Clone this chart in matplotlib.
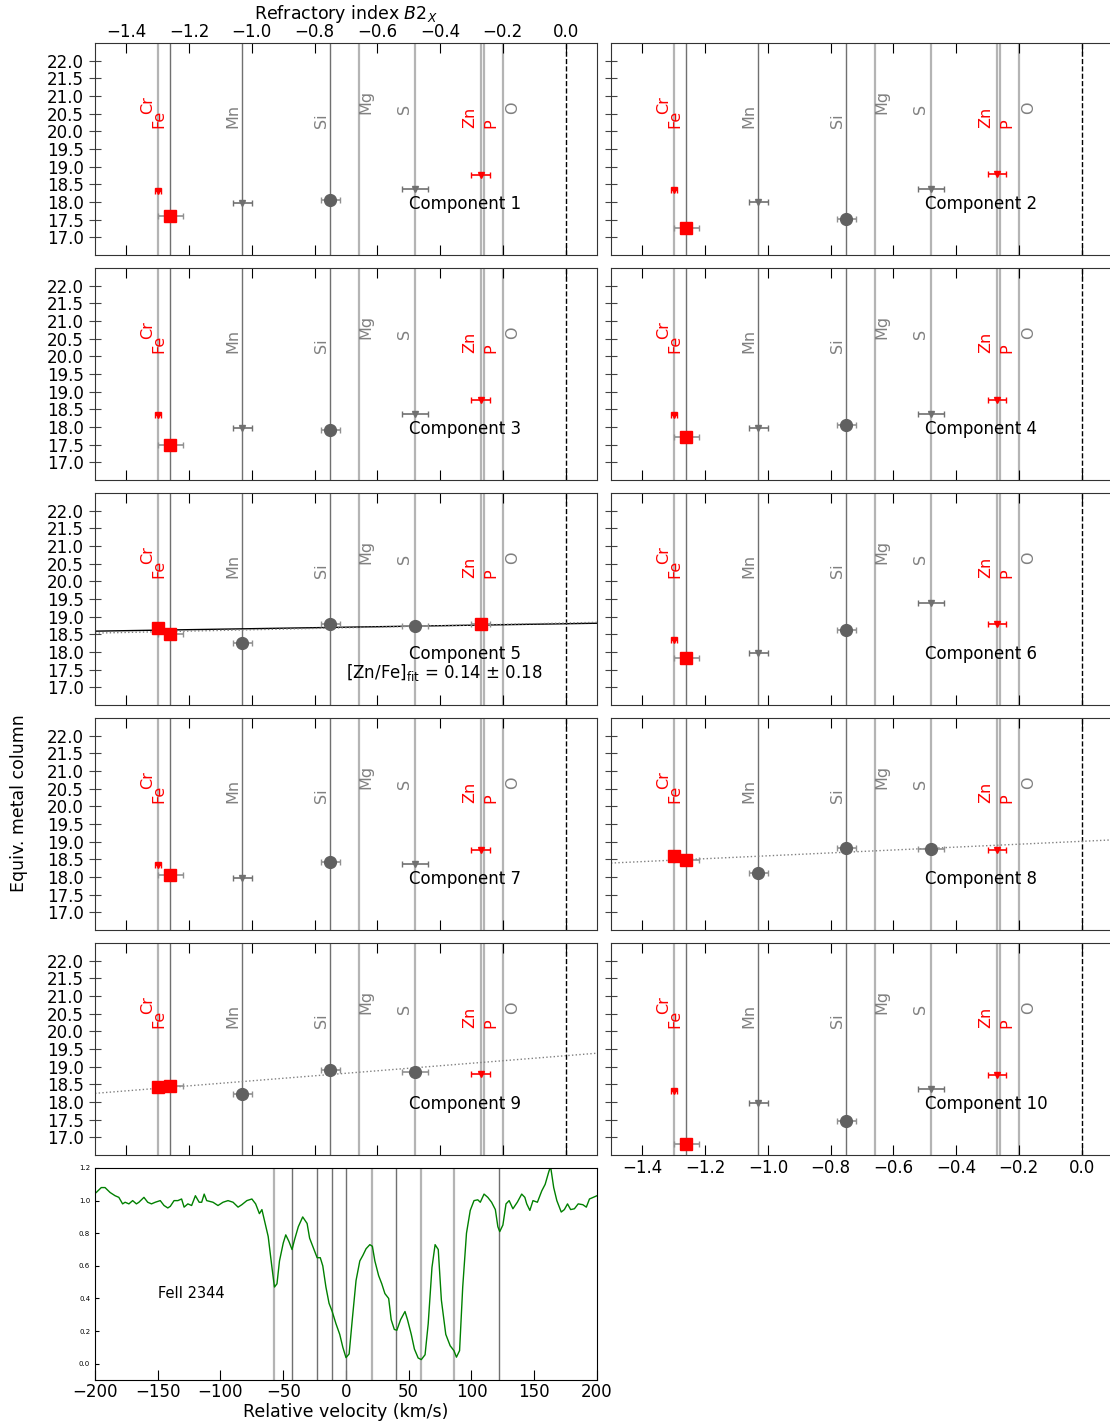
import matplotlib
matplotlib.use('Agg')
import matplotlib.pyplot as plt
import numpy as np

# refractory index B2 of each element
elements = ['Cr', 'Fe', 'Mn', 'Si', 'Mg', 'S', 'Zn', 'P', 'O']
b2 = [-1.30, -1.26, -1.03, -0.75, -0.66, -0.48, -0.27, -0.26, -0.20]
label_red = ['Cr', 'Fe', 'Zn', 'P']

# measured elements and their B2 uncertainties
meas_el = ['Cr', 'Fe', 'Mn', 'Si', 'S', 'Zn']
meas_b2err = [0.01, 0.04, 0.03, 0.03, 0.04, 0.03]

# equivalent metal column per component (same order as meas_el)
comp_values = [
    [18.32, 17.59, 17.98, 18.06, 18.36, 18.77],
    [18.33, 17.26, 17.99, 17.51, 18.36, 18.78],
    [18.33, 17.49, 17.96, 17.91, 18.37, 18.76],
    [18.33, 17.71, 17.96, 18.07, 18.37, 18.76],
    [18.68, 18.52, 18.25, 18.80, 18.75, 18.78],
    [18.33, 17.84, 17.98, 18.63, 19.38, 18.79],
    [18.33, 18.06, 17.96, 18.42, 18.37, 18.76],
    [18.59, 18.49, 18.10, 18.82, 18.78, 18.76],
    [18.42, 18.45, 18.24, 18.90, 18.84, 18.80],
    [18.31, 16.82, 17.98, 17.47, 18.36, 18.77],
]
# 1 = detection, 0 = upper limit
comp_detect = [
    [0, 1, 0, 1, 0, 0],
    [0, 1, 0, 1, 0, 0],
    [0, 1, 0, 1, 0, 0],
    [0, 1, 0, 1, 0, 0],
    [1, 1, 1, 1, 1, 1],
    [0, 1, 0, 1, 0, 0],
    [0, 1, 0, 1, 0, 0],
    [1, 1, 1, 1, 1, 0],
    [1, 1, 1, 1, 1, 0],
    [0, 1, 0, 1, 0, 0],
]
# depletion fits: (component, intercept at B2=0, slope, style)
fit_comp = [5, 5, 8, 9]
fit_y0 = [18.80, 18.82, 19.01, 19.31]
fit_slope = [0.14, 0.19, 0.41, 0.71]
fit_style = ['solid', 'dotted', 'dotted', 'dotted']

# FeII 2344 spectrum
vel = [-199, -195, -192, -188, -184, -181, -178, -176, -173, -170, -167, -165, -161, -158,
       -155, -152, -148, -145, -142, -140, -137, -134, -131, -129, -126, -123, -120, -117,
       -115, -113, -111, -106, -102, -98, -94, -90, -86, -83, -79, -75, -72, -69, -67, -65,
       -62, -59, -57, -55, -53, -50, -48, -45.5, -43, -41, -38, -34.5, -31, -29, -25.5, -23,
       -20.5, -18.5, -16, -13.5, -11, -8, -5, -2.5, 0, 2.5, 5, 8, 11, 13.5, 16, 19, 21, 23,
       26, 28.5, 31, 34, 36, 38.5, 40.5, 43.5, 47, 49, 52, 54.5, 57.5, 60, 63, 65.5, 68.5,
       71, 73.5, 76, 79.5, 83, 86, 88, 90.5, 93, 96, 99, 102, 105, 107, 110, 113, 116, 119,
       121, 122.5, 125, 127.5, 130, 133, 136.5, 140, 142.5, 144, 146.5, 149, 152.5, 156,
       158.7, 161.5, 163, 165.5, 168, 171.5, 174, 176.5, 179, 182, 185, 188.7, 191.5, 194,
       197, 200]
flux = [1.05, 1.08, 1.08, 1.05, 1.03, 1.02, 0.98, 0.99, 0.98, 1.00, 0.98, 0.99, 1.02, 0.99,
        0.98, 0.99, 1.00, 0.97, 0.955, 0.965, 1.00, 1.00, 1.01, 0.96, 0.98, 0.97, 1.03, 0.99,
        0.99, 1.04, 1.00, 0.99, 0.97, 0.99, 1.00, 0.99, 0.96, 0.975, 1.00, 1.01, 0.98, 0.92,
        0.945, 0.88, 0.78, 0.59, 0.47, 0.49, 0.63, 0.74, 0.79, 0.75, 0.70, 0.76, 0.84, 0.90,
        0.86, 0.77, 0.70, 0.65, 0.65, 0.60, 0.47, 0.37, 0.32, 0.245, 0.18, 0.10, 0.037, 0.06,
        0.27, 0.51, 0.63, 0.665, 0.705, 0.73, 0.72, 0.63, 0.54, 0.49, 0.43, 0.40, 0.27, 0.21,
        0.205, 0.27, 0.32, 0.27, 0.18, 0.09, 0.035, 0.025, 0.055, 0.245, 0.59, 0.73, 0.70,
        0.39, 0.18, 0.11, 0.08, 0.04, 0.08, 0.47, 0.80, 0.94, 1.00, 1.005, 0.99, 1.04, 1.02,
        0.99, 0.945, 0.84, 0.81, 0.85, 0.98, 1.00, 0.95, 0.99, 1.04, 1.02, 0.98, 0.94, 1.00,
        0.99, 1.06, 1.10, 1.175, 1.21, 1.08, 1.00, 0.93, 0.945, 0.98, 0.945, 0.95, 0.98,
        0.975, 0.96, 1.01, 1.02, 1.03]
comp_vel = [-57, -43, -23, -11, 0, 21, 40, 60, 86, 122]
comp_vel_dark = [0, 1, 1, 1, 1, 0, 1, 0, 0, 1]

# style per element line / label
line_dark = {'Cr': 0, 'Fe': 1, 'Mn': 1, 'Si': 1, 'Mg': 0, 'S': 0, 'Zn': 0, 'P': 0, 'O': 0}
lab_dx = {'Cr': -0.032, 'Fe': -0.038, 'Mn': -0.029, 'Si': -0.029, 'Mg': 0.022,
          'S': -0.032, 'Zn': -0.035, 'P': 0.022, 'O': 0.032}
lab_y = {'Cr': 20.5, 'Fe': 20.1, 'Mn': 20.1, 'Si': 20.1, 'Mg': 20.5,
         'S': 20.5, 'Zn': 20.1, 'P': 20.1, 'O': 20.5}

fig = plt.figure(figsize=(11.1, 14.25), dpi=100)
W, H = 1110.0, 1425.0


def panel_rect(x0, top, w=502, h=212):
    return [x0 / W, 1 - (top + h) / H, w / W, h / H]


def draw_component(ax, i):
    for el, x in zip(elements, b2):
        if line_dark[el]:
            ax.axvline(x, color='#707070', lw=1.0, zorder=1)
        else:
            ax.axvline(x, color='#b4b4b4', lw=1.6, zorder=1)
        col = 'red' if el in label_red else 'gray'
        ax.text(x + lab_dx[el], lab_y[el], el, rotation=90, color=col, fontsize=11.5,
                ha='center', va='bottom')
    ax.axvline(0.0, color='k', ls='--', lw=1.0, zorder=1)

    xs = np.linspace(-1.5, 0.1, 10)
    for c, y0, s, st in zip(fit_comp, fit_y0, fit_slope, fit_style):
        if c == i + 1:
            if st == 'solid':
                ax.plot(xs, y0 + s * xs, color='k', lw=1.0, zorder=2)
            else:
                ax.plot(xs, y0 + s * xs, color='gray', ls=':', lw=1.0, zorder=2)

    for el, xe, yv, det in zip(meas_el, meas_b2err, comp_values[i], comp_detect[i]):
        x = b2[elements.index(el)]
        red = el in label_red
        if det:
            ax.errorbar(x, yv, xerr=xe, fmt='s' if red else 'o',
                        color='red' if red else '#606060', ms=8.5,
                        ecolor='#909090', elinewidth=1.2, capsize=2.5, zorder=4)
        else:
            c = 'red' if red else '#707070'
            ax.errorbar(x, yv, xerr=xe, fmt='v', color=c, ms=4,
                        ecolor=c, elinewidth=1.2, capsize=2.5, zorder=4)

    ax.text(-0.5, 17.95, 'Component %d' % (i + 1), fontsize=12, ha='left', va='center')
    if i == 4:
        ax.text(-0.7, 17.42, r'[Zn/Fe]$_{\rm fit}$ = 0.14 $\pm$ 0.18', fontsize=12,
                ha='left', va='center')

    ax.set_xlim(-1.5, 0.1)
    ax.set_ylim(16.5, 22.5)
    ax.set_xticks(np.arange(-1.4, 0.01, 0.2))
    ax.set_yticks(np.arange(17.0, 22.01, 0.5))
    ax.xaxis.set_ticks_position('both')
    ax.tick_params(axis='x', direction='in', length=7, labelsize=12,
                   labelbottom=False, labeltop=False)
    ax.tick_params(axis='y', direction='inout', length=9, labelsize=12, color='#444444')
    for sp in ax.spines.values():
        sp.set_color('#333333')


for i in range(10):
    row, col = i // 2, i % 2
    x0 = 95 if col == 0 else 611
    ax = fig.add_axes(panel_rect(x0, 43 + 225 * row))
    draw_component(ax, i)
    if col == 1:
        ax.tick_params(axis='y', labelleft=False)
    else:
        ax.yaxis.set_major_formatter(matplotlib.ticker.FormatStrFormatter('%.1f'))
    if i == 0:
        ax.tick_params(axis='x', labeltop=True, pad=1.5)
        ax.xaxis.set_label_position('top')
        ax.set_xlabel(r'Refractory index $B2_X$', fontsize=12.5, labelpad=3)
    if i == 9:
        ax.tick_params(axis='x', labelbottom=True, pad=3)

# spectrum panel
axs = fig.add_axes(panel_rect(95, 1168))
for v, d in zip(comp_vel, comp_vel_dark):
    if d:
        axs.axvline(v, color='#707070', lw=1.0)
    else:
        axs.axvline(v, color='#b4b4b4', lw=1.6)
axs.plot(vel, flux, color='green', lw=1.0)
axs.text(-123, 0.43, 'FeII 2344', fontsize=10.5, ha='center', va='center')
axs.set_xlim(-200, 200)
axs.set_ylim(-0.1, 1.2)
axs.set_xticks(np.arange(-200, 201, 50))
axs.set_yticks(np.arange(0.0, 1.21, 0.2))
axs.yaxis.set_major_formatter(matplotlib.ticker.FormatStrFormatter('%.1f'))
axs.tick_params(axis='x', direction='in', length=7, labelsize=12, pad=2.5)
axs.tick_params(axis='y', direction='in', length=3, labelsize=5)
axs.set_xlabel('Relative velocity (km/s)', fontsize=12.5, labelpad=1)

fig.text(0.017, 0.4365, 'Equiv. metal column', rotation=90, fontsize=12.5,
         ha='center', va='center')

fig.savefig('out.png', dpi=100)
